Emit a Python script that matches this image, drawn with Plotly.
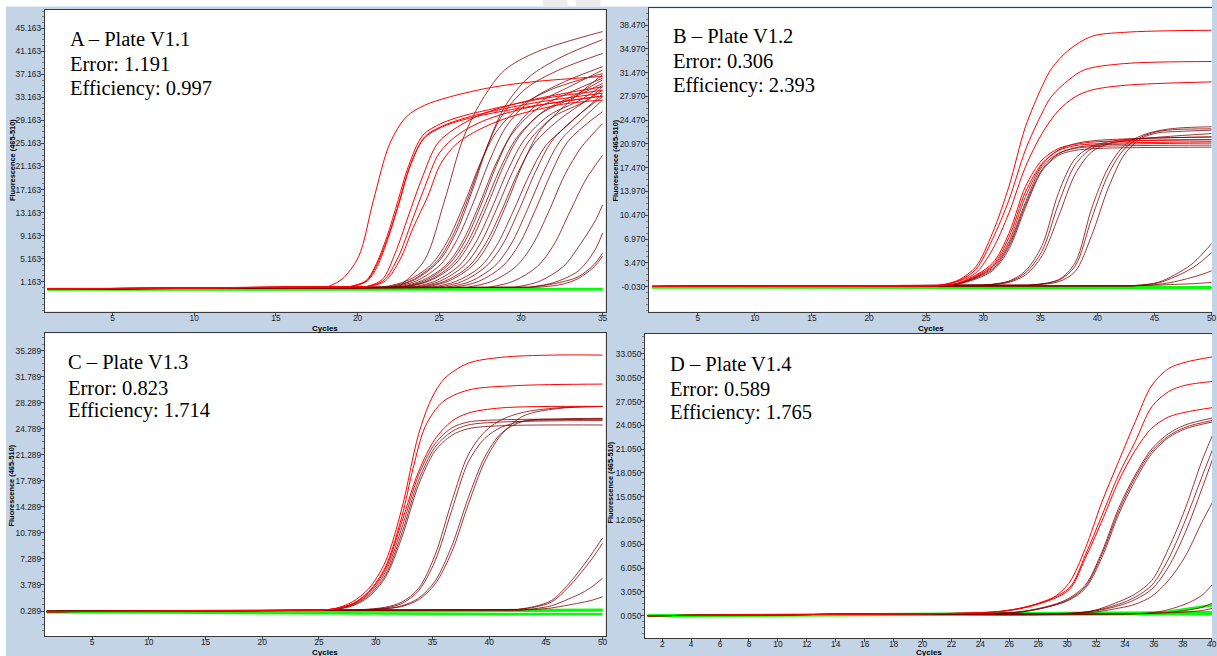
import plotly.graph_objects as go

# ---------------- data (knots) ----------------
# Panel A - Plate V1.1
A_red_x = [
    [1, 18.2, 19.05, 20.06, 20.97, 21.98, 22.99, 24.1, 25.7, 28.2, 30.8, 35],
    [1, 19.5, 20.5, 21.07, 21.8, 22.49, 23.1, 24.0, 25.1, 26.5, 28, 31, 35],
    [1, 19.6, 20.6, 21.2, 21.9, 22.6, 23.2, 24.1, 25.2, 26.6, 28, 31, 35],
    [1, 19.55, 20.55, 21.1, 21.85, 22.55, 23.15, 24.05, 25.15, 26.5, 28, 31, 35],
    [1, 20.5, 21.5, 22.3, 23.1, 23.9, 24.9, 26.1, 27.75, 30.6, 35],
    [1, 20.6, 21.6, 22.5, 23.3, 24.1, 25.0, 26.2, 27.8, 30.6, 35],
    [1, 20.7, 21.7, 22.6, 23.4, 24.3, 25.1, 26.1, 27.75, 29.6, 32.6, 35],
]
A_red_y = [
    [-0.1, 0.3, 1.6, 5.5, 15.3, 25.2, 29.8, 31.8, 33.3, 34.9, 35.9, 36.8],
    [-0.1, 0.3, 1.3, 3.8, 9.0, 15.4, 21.1, 26.6, 28.6, 30.0, 31.0, 32.8, 34.4],
    [-0.1, 0.3, 1.3, 3.8, 9.0, 15.4, 21.1, 26.3, 28.2, 29.6, 30.6, 32.3, 33.9],
    [-0.1, 0.3, 1.3, 3.7, 8.8, 15.0, 20.8, 26.0, 28.0, 29.3, 30.3, 31.8, 33.4],
    [-0.1, 0.3, 1.5, 6.1, 12.5, 18.8, 25.2, 28.0, 30.4, 32.7, 35.0],
    [-0.1, 0.3, 1.4, 5.5, 11.5, 17.5, 23.5, 26.8, 29.2, 31.5, 33.4],
    [-0.1, 0.3, 1.3, 5.0, 10.5, 16.0, 21.7, 25.2, 28.0, 30.0, 32.0, 32.7],
]
A_dark_x = [
    [1, 22.5, 24.1, 25.3, 26.5, 27.75, 29, 31, 35],
    [1, 22, 23.5, 25, 26, 27, 28, 29, 30.5, 32.5, 35],
    [1, 21.8, 23.3, 24.8, 25.8, 26.8, 27.8, 28.8, 30.3, 32.3, 35],
    [1, 21.5, 23, 24.5, 25.5, 26.5, 27.5, 28.5, 30, 32, 35],
    [1, 22.1, 23.6, 25.1, 26.1, 27.1, 28.1, 29.1, 30.6, 32.6, 35],
    [1, 22.4, 23.9, 25.4, 26.4, 27.4, 28.4, 29.4, 30.9, 32.9, 35],
    [1, 22.6, 24.1, 25.6, 26.6, 27.6, 28.6, 29.6, 31.1, 33.1, 35],
    [1, 22.7, 24.2, 25.7, 26.7, 27.7, 28.7, 29.7, 31.2, 33.2, 35],
    [1, 22.9, 24.4, 25.9, 26.9, 27.9, 28.9, 29.9, 31.4, 33.4, 35],
    [1, 23.2, 24.7, 26.2, 27.2, 28.2, 29.2, 30.2, 31.7, 33.7, 35],
    [1, 23.5, 25, 26.5, 27.5, 28.5, 29.5, 30.5, 32, 34, 35],
    [1, 23.8, 25.3, 26.8, 27.8, 28.8, 29.8, 30.8, 32.3, 35],
    [1, 24.1, 25.6, 27.1, 28.1, 29.1, 30.1, 31.1, 32.6, 35],
    [1, 24.5, 26, 27.5, 28.5, 29.5, 30.5, 31.5, 33, 35],
    [1, 24.9, 26.4, 27.9, 28.9, 29.9, 30.9, 31.9, 33.4, 35],
    [1, 25.4, 26.9, 28.4, 29.4, 30.4, 31.4, 32.4, 33.9, 35],
    [1, 25.9, 27.4, 28.9, 29.9, 30.9, 31.9, 32.9, 35],
    [1, 26.7, 28.2, 29.7, 30.7, 31.7, 32.7, 33.7, 35],
    [1, 28, 29.5, 31, 32, 33, 34, 35],
    [1, 29.6, 31.1, 32.6, 33.6, 34.6, 35],
    [1, 30.5, 32, 33.5, 34.5, 35],
    [1, 30.5, 32, 33.5, 34.5, 35],
    [1, 31, 32.5, 33.5, 34.5, 35],
]
A_dark_y = [
    [-0.1, 0.2, 4.9, 15.0, 26.3, 33.3, 37.9, 41.1, 44.6],
    [-0.1, 0.2, 1.5, 4.8, 9.5, 16.8, 25.1, 31.5, 36.7, 40.2, 43.2],
    [-0.1, 0.2, 1.4, 4.5, 9.0, 15.9, 23.7, 29.8, 34.7, 37.9, 40.8],
    [-0.1, 0.2, 1.3, 4.1, 8.2, 14.5, 21.6, 27.2, 31.7, 34.7, 37.3],
    [-0.1, 0.2, 1.3, 4.2, 8.5, 15.0, 22.3, 28.1, 32.7, 35.8, 38.5],
    [-0.1, 0.2, 1.3, 4.0, 8.0, 14.2, 21.2, 26.6, 31.0, 33.9, 36.5],
    [-0.1, 0.2, 1.3, 4.2, 8.3, 14.8, 22.0, 27.7, 32.2, 35.2, 37.9],
    [-0.1, 0.2, 1.2, 3.9, 7.8, 13.9, 20.6, 26.0, 30.3, 33.1, 35.6],
    [-0.1, 0.2, 1.3, 4.0, 8.0, 14.1, 21.0, 26.4, 30.8, 33.7, 36.2],
    [-0.1, 0.2, 1.2, 3.9, 7.8, 13.8, 20.5, 25.8, 30.0, 32.8, 35.3],
    [-0.1, 0.2, 1.2, 3.9, 7.7, 13.7, 20.3, 25.6, 29.8, 32.6, 35.0],
    [-0.1, 0.2, 1.2, 3.8, 7.6, 13.4, 20.0, 25.1, 29.2, 34.4],
    [-0.1, 0.2, 1.3, 4.1, 8.2, 14.5, 21.5, 27.1, 31.5, 37.1],
    [-0.1, 0.2, 1.2, 3.7, 7.4, 13.2, 19.6, 24.7, 28.7, 33.8],
    [-0.1, 0.2, 1.2, 3.9, 7.7, 13.7, 20.3, 25.6, 29.8, 33.3],
    [-0.1, 0.2, 1.2, 3.9, 7.7, 13.7, 20.3, 25.6, 29.8, 32.7],
    [-0.1, 0.2, 1.2, 3.9, 7.7, 13.7, 20.3, 25.6, 30.7],
    [-0.1, 0.2, 1.2, 3.8, 7.5, 13.3, 19.8, 24.5, 28.6],
    [-0.1, 0.2, 1.2, 3.8, 7.5, 13.3, 19.0, 23.1],
    [-0.1, 0.2, 1.2, 3.8, 7.5, 12.0, 14.5],
    [-0.1, 0.2, 1.0, 3.0, 6.5, 9.6],
    [-0.1, 0.2, 0.8, 2.0, 4.2, 6.1],
    [-0.1, 0.2, 0.7, 1.7, 3.8, 5.6],
]
A_green_x = [[1, 35], [1, 35]]
A_green_y = [[-0.1, -0.1], [-0.2, -0.15]]

# Panel B - Plate V1.2
B_red_x = [
    [1, 25, 26.45, 27.9, 29.35, 30.8, 32.25, 33.7, 35.15, 36.0, 37.5, 39.5, 42.4, 50],
    [1, 26, 27.9, 29.35, 30.8, 32.25, 33.7, 35.15, 36.0, 37.5, 38.9, 42.4, 50],
    [1, 26, 27.9, 29.35, 30.8, 32.25, 33.7, 35.15, 36.6, 38.05, 39.5, 42.4, 50],
    [1, 26, 28, 30.8, 32.25, 33.7, 35.15, 36.6, 38, 40, 50],
    [1, 26, 28, 30.8, 32.25, 33.7, 35.15, 36.6, 38, 40, 50],
]
B_red_y = [
    [0, 0.1, 0.25, 1.0, 2.9, 7.8, 14.7, 23.5, 29.4, 32.1, 34.8, 36.8, 37.4, 37.7],
    [0, 0.1, 0.9, 2.5, 6.9, 12.7, 20.1, 25.5, 28.0, 30.4, 31.9, 32.8, 33.1],
    [0, 0.1, 0.8, 2.0, 5.4, 10.8, 17.6, 22.5, 25.9, 27.9, 28.9, 29.6, 30.1],
    [0, 0.1, 0.6, 3.4, 7.8, 14.7, 18.6, 20.3, 20.9, 21.3, 21.6],
    [0, 0.1, 0.6, 3.1, 7.2, 13.9, 18.1, 20.0, 20.7, 21.0, 21.3],
]
B_dark_x = [
    [1, 26, 28, 30.8, 32.25, 33.7, 35.15, 36.6, 38, 40, 50],
    [1, 26, 28, 30.8, 32.25, 33.7, 35.15, 36.6, 38, 40, 50],
    [1, 26, 28, 30.8, 32.25, 33.7, 35.15, 36.6, 38, 40, 50],
    [1, 26, 28, 30.8, 32.25, 33.7, 35.15, 36.6, 38, 40, 50],
    [1, 30, 32.25, 33.7, 35.15, 36.6, 38.05, 39.5, 41, 43, 50],
    [1, 30, 32.25, 33.7, 35.15, 36.6, 38.05, 39.5, 41, 43, 50],
    [1, 30, 32.25, 33.7, 35.15, 36.6, 38.05, 39.5, 41, 43, 50],
    [1, 34, 36.6, 38.05, 39.5, 40.96, 42.4, 43.86, 45.3, 47, 50],
    [1, 34, 36.6, 38.05, 39.5, 40.96, 42.4, 43.86, 45.3, 47, 50],
    [1, 34, 36.6, 38.05, 39.5, 40.96, 42.4, 43.86, 45.3, 47, 50],
    [1, 43, 45.3, 46.76, 48.2, 49.2, 50],
    [1, 43, 45.3, 46.76, 48.2, 49.2, 50],
    [1, 43, 45.3, 46.76, 48.2, 49.2, 50],
    [1, 43, 45.3, 46.76, 48.2, 49.2, 50],
]
B_dark_y = [
    [0, 0.1, 0.5, 2.9, 6.6, 13.2, 17.9, 20.1, 21.0, 21.5, 22.0],
    [0, 0.1, 0.5, 2.7, 6.2, 12.4, 17.6, 19.6, 20.3, 20.6, 20.8],
    [0, 0.1, 0.5, 2.5, 5.9, 12.0, 17.2, 19.5, 20.4, 20.8, 21.1],
    [0, 0.1, 0.4, 2.3, 5.5, 11.6, 17.0, 19.3, 20.0, 20.3, 20.5],
    [0, 0.2, 0.8, 2.3, 6.0, 13.8, 18.8, 20.6, 21.3, 21.7, 22.0],
    [0, 0.2, 0.7, 2.0, 5.2, 12.2, 17.9, 20.3, 21.1, 21.4, 21.6],
    [0, 0.2, 0.6, 1.7, 4.5, 10.3, 16.5, 19.8, 21.0, 21.6, 22.5],
    [0, 0.2, 1.0, 3.5, 11.5, 17.5, 20.8, 22.2, 22.9, 23.3, 23.5],
    [0, 0.2, 0.9, 3.0, 10.0, 16.5, 20.3, 22.0, 22.8, 23.1, 23.2],
    [0, 0.2, 0.7, 2.2, 7.5, 14.5, 19.5, 21.8, 22.6, 22.8, 23.0],
    [0, 0.1, 0.6, 1.7, 3.2, 4.8, 6.3],
    [0, 0.1, 0.5, 1.4, 2.6, 3.8, 5.0],
    [0, 0.1, 0.3, 0.7, 1.3, 1.8, 2.3],
    [0, 0.1, 0.2, 0.3, 0.4, 0.5, 0.6],
]
B_green_x = [[1, 50], [1, 50]]
B_green_y = [[0.0, -0.1], [-0.15, -0.2]]

# Panel C - Plate V1.3
C_red_x = [
    [1, 25, 26.46, 27.92, 29.39, 30.85, 32.31, 33.77, 34.94, 36.1, 38.16, 41.08, 45.47, 50],
    [1, 25, 26.5, 28, 29.39, 30.85, 32.31, 33.3, 34.4, 35.9, 38.16, 42.5, 50],
    [1, 25, 26.5, 28, 29.39, 30.85, 32.31, 33.77, 35.23, 36.7, 38.16, 41.08, 50],
]
C_red_y = [
    [0.2, 0.4, 0.65, 1.5, 3.3, 6.9, 14.1, 24.0, 28.9, 31.6, 33.6, 34.4, 34.7, 34.7],
    [0.2, 0.4, 0.6, 1.3, 2.9, 6.2, 13.0, 19.5, 25.2, 28.4, 30.0, 30.6, 30.8],
    [0.2, 0.4, 0.6, 1.3, 2.8, 5.9, 12.3, 19.0, 23.4, 25.8, 26.9, 27.6, 27.8],
]
C_dark_x = [
    [1, 25, 26.5, 28, 29.39, 30.85, 32.31, 33.77, 35.23, 36.7, 38.16, 41.08, 50],
    [1, 25, 26.5, 28, 29.39, 30.85, 32.31, 33.77, 35.23, 36.7, 38.16, 41.08, 50],
    [1, 25, 26.5, 28, 29.39, 30.85, 32.31, 33.77, 35.23, 36.7, 38.16, 41.08, 50],
    [1, 28, 30.85, 32.31, 33.77, 35.23, 36.7, 38.16, 39.62, 41.08, 43, 46, 50],
    [1, 28, 30.85, 32.31, 33.77, 35.23, 36.7, 38.16, 39.62, 41.08, 43, 46, 50],
    [1, 28, 30.85, 32.31, 33.77, 35.23, 36.7, 38.16, 39.62, 41.08, 43, 46, 50],
    [1, 28, 30.85, 32.31, 33.77, 35.23, 36.7, 38.16, 39.62, 41.08, 43, 46, 50],
    [1, 42.5, 44, 45.5, 47, 48.4, 49.2, 50],
    [1, 42.5, 44, 45.5, 47, 48.4, 49.2, 50],
    [1, 42.5, 44, 45.5, 47, 48.4, 49.2, 50],
    [1, 42.5, 44, 45.5, 47, 48.4, 49.2, 50],
]
C_dark_y = [
    [0.2, 0.4, 0.6, 1.2, 2.6, 5.5, 11.5, 18.5, 22.8, 24.9, 25.7, 26.0, 26.1],
    [0.2, 0.4, 0.55, 1.1, 2.4, 5.1, 10.8, 17.8, 22.3, 24.4, 25.3, 25.7, 25.9],
    [0.2, 0.4, 0.5, 1.0, 2.2, 4.8, 10.2, 17.2, 21.8, 23.9, 24.8, 25.2, 25.3],
    [0.2, 0.4, 0.8, 1.5, 3.3, 7.8, 15.0, 21.3, 24.4, 26.0, 27.0, 27.6, 27.8],
    [0.2, 0.4, 0.7, 1.3, 3.0, 7.0, 13.8, 20.3, 23.5, 25.0, 25.8, 26.0, 26.1],
    [0.2, 0.4, 0.6, 1.0, 2.0, 4.3, 9.0, 15.5, 21.0, 24.2, 25.8, 26.1, 26.2],
    [0.2, 0.4, 0.6, 0.9, 1.8, 3.9, 8.2, 14.6, 20.4, 24.0, 26.5, 27.5, 27.8],
    [0.3, 0.5, 0.9, 1.7, 3.9, 6.6, 8.3, 10.1],
    [0.3, 0.5, 0.8, 1.5, 3.5, 6.0, 7.6, 9.4],
    [0.3, 0.4, 0.6, 1.0, 1.9, 2.9, 3.7, 4.7],
    [0.3, 0.4, 0.5, 0.7, 1.1, 1.5, 1.8, 2.2],
]
C_green_x = [[1, 50], [1, 50], [1, 50]]
C_green_y = [[0.15, 0.45], [0.15, 0.35], [0.15, -0.15]]

# Panel D - Plate V1.4
D_red_x = [
    [1, 20, 25.52, 27.82, 28.97, 30.12, 31.26, 32.41, 33.56, 34.71, 35.86, 37.01, 38.16, 40.1],
    [1, 20, 25.5, 27.82, 30.12, 31.26, 32.41, 33.56, 34.71, 35.86, 37.01, 38.16, 40.1],
    [1, 20, 25.5, 27.82, 30.12, 31.26, 32.41, 33.56, 34.71, 35.86, 37.01, 38.16, 40.1],
]
D_red_y = [
    [0.05, 0.3, 0.64, 1.48, 2.24, 4.13, 8.54, 14.4, 19.5, 24.5, 29.1, 31.2, 32.0, 32.7],
    [0.05, 0.3, 0.6, 1.5, 3.5, 7.7, 12.7, 17.8, 22.0, 26.4, 28.3, 29.1, 29.6],
    [0.05, 0.3, 0.6, 1.4, 3.3, 7.3, 12.0, 17.0, 20.9, 23.7, 25.1, 25.7, 26.3],
]
D_dark_x = [
    [1, 20, 26.67, 28.97, 30.12, 31.26, 32.41, 33.56, 34.71, 35.86, 37.01, 38.16, 40.1],
    [1, 20, 26.67, 28.97, 30.12, 31.26, 32.41, 33.56, 34.71, 35.86, 37.01, 38.16, 40.1],
    [1, 20, 26.67, 28.97, 30.12, 31.26, 32.41, 33.56, 34.71, 35.86, 37.01, 38.16, 40.1],
    [1, 20, 31.26, 33.56, 34.71, 35.86, 37.01, 38.16, 39.31, 40.1],
    [1, 20, 31.26, 33.56, 34.71, 35.86, 37.01, 38.16, 39.31, 40.1],
    [1, 20, 31.26, 33.56, 34.71, 35.86, 37.01, 38.16, 39.31, 40.1],
    [1, 20, 31.26, 33.56, 34.71, 35.86, 37.01, 38.16, 39.31, 40.1],
    [1, 20, 34.7, 36.5, 38.16, 39.31, 40.1],
    [1, 20, 34.7, 36.5, 38.16, 39.31, 40.1],
    [1, 20, 34.7, 36.5, 38.16, 39.31, 40.1],
]
D_dark_y = [
    [0.05, 0.3, 0.55, 1.4, 2.24, 3.9, 8.1, 13.6, 17.8, 21.1, 23.0, 24.1, 25.0],
    [0.05, 0.3, 0.5, 1.3, 2.1, 3.7, 7.8, 13.2, 17.5, 20.8, 22.7, 23.8, 24.7],
    [0.05, 0.3, 0.5, 1.3, 2.0, 3.5, 7.4, 12.8, 17.1, 20.5, 22.5, 23.6, 24.5],
    [0.05, 0.3, 0.5, 1.8, 2.8, 4.5, 8.5, 13.5, 19.5, 23.0],
    [0.05, 0.3, 0.5, 1.5, 2.4, 3.9, 7.2, 12.0, 17.5, 21.2],
    [0.05, 0.3, 0.5, 1.3, 2.1, 3.4, 6.2, 10.5, 16.0, 20.0],
    [0.05, 0.3, 0.4, 1.0, 1.5, 2.5, 4.5, 7.5, 11.8, 14.5],
    [0.05, 0.3, 0.3, 0.6, 1.5, 2.6, 4.1],
    [0.05, 0.3, 0.3, 0.4, 0.7, 1.1, 1.7],
    [0.05, 0.3, 0.3, 0.4, 0.5, 0.7, 1.0],
]
D_green_x = [[1, 40.1], [1, 40.1], [1, 36, 40.1]]
D_green_y = [[0.05, 0.3], [0.05, 0.5], [0.05, 0.3, 1.4]]

# axis tick labels
A_yticks = ["1.163", "5.163", "9.163", "13.163", "17.163", "21.163", "25.163",
            "29.163", "33.163", "37.163", "41.163", "45.163"]
B_yticks = ["-0.030", "3.470", "6.970", "10.470", "13.970", "17.470", "20.970",
            "24.470", "27.970", "31.470", "34.970", "38.470"]
C_yticks = ["0.289", "3.789", "7.289", "10.789", "14.289", "17.789", "21.289",
            "24.789", "28.289", "31.789", "35.289"]
D_yticks = ["0.050", "3.050", "6.050", "9.050", "12.050", "15.050", "18.050",
            "21.050", "24.050", "27.050", "30.050", "33.050"]
A_xticks = [5, 10, 15, 20, 25, 30, 35]
B_xticks = [5, 10, 15, 20, 25, 30, 35, 40, 45, 50]
C_xticks = [5, 10, 15, 20, 25, 30, 35, 40, 45, 50]
D_xticks = [2, 4, 6, 8, 10, 12, 14, 16, 18, 20, 22, 24, 26, 28, 30, 32, 34, 36, 38, 40]

panel_titles = [
    ["A – Plate V1.1", "Error: 1.191", "Efficiency: 0.997"],
    ["B – Plate V1.2", "Error: 0.306", "Efficiency: 2.393"],
    ["C – Plate V1.3", "Error: 0.823", "Efficiency: 1.714"],
    ["D – Plate V1.4", "Error: 0.589", "Efficiency: 1.765"],
]

# ---------------- figure ----------------
W, H = 1217, 656
BG = "#c3d4e6"
RED = "#ff0000"
DARK = "rgba(128,0,0,0.78)"
GREEN = "#00ff00"

fig = go.Figure()


def px_x(p):
    return p / W


def px_y(p):
    return 1 - p / H


panels = [
    dict(xa="x", ya="y", xd=(45, 608), yd=(9.5, 311.5), xr=[0.85, 35.18], yr=[-4.01, 48.43],
         ytl=A_yticks, ystep=4.0, xt=A_xticks, rb=True,
         red=(A_red_x, A_red_y), dark=(A_dark_x, A_dark_y), green=(A_green_x, A_green_y)),
    dict(xa="x2", ya="y2", xd=(651.7, 1217), yd=(8.3, 311.7), xr=[0.73, 50.04], yr=[-3.71, 40.93],
         ytl=B_yticks, ystep=3.5, xt=B_xticks, rb=False,
         red=(B_red_x, B_red_y), dark=(B_dark_x, B_dark_y), green=(B_green_x, B_green_y)),
    dict(xa="x3", ya="y3", xd=(45, 608), yd=(333.3, 636), xr=[0.83, 50.26], yr=[-3.07, 37.63],
         ytl=C_yticks, ystep=3.5, xt=C_xticks, rb=True,
         red=(C_red_x, C_red_y), dark=(C_dark_x, C_dark_y), green=(C_green_x, C_green_y)),
    dict(xa="x4", ya="y4", xd=(647.7, 1217), yd=(334, 638.3), xr=[0.81, 40.02], yr=[-2.80, 35.57],
         ytl=D_yticks, ystep=3.0, xt=D_xticks, rb=False,
         red=(D_red_x, D_red_y), dark=(D_dark_x, D_dark_y), green=(D_green_x, D_green_y)),
]

tickfont = dict(family="Liberation Sans, Arial, sans-serif", size=8.4, color="#222")


def add_curve(cx, cy, col, w, xa, ya):
    # flat baseline part drawn straight, the amplification part smoothed
    fig.add_trace(go.Scatter(
        x=cx[:2], y=cy[:2], mode="lines", xaxis=xa, yaxis=ya,
        line=dict(color=col, width=w), hoverinfo="skip", showlegend=False))
    if len(cx) > 2:
        fig.add_trace(go.Scatter(
            x=cx[1:], y=cy[1:], mode="lines", xaxis=xa, yaxis=ya,
            line=dict(color=col, width=w, shape="spline", smoothing=0.9),
            hoverinfo="skip", showlegend=False))


for i, p in enumerate(panels):
    for (xs, ys), col, w in [(p["green"], GREEN, 2.5), (p["dark"], DARK, 1.0), (p["red"], RED, 1.0)]:
        for cx, cy in zip(xs, ys):
            add_curve(cx, cy, col, w, p["xa"], p["ya"])
    suffix = "" if i == 0 else str(i + 1)
    yvals = [float(t) for t in p["ytl"]]
    fig.layout["xaxis" + suffix] = dict(
        domain=[px_x(p["xd"][0]), min(1.0, px_x(p["xd"][1]))],
        range=p["xr"], anchor=p["ya"], showgrid=False, zeroline=False,
        showline=True, linecolor="#3a3a3a", linewidth=1, mirror=True,
        ticks="outside", ticklen=3, tickcolor="#444", tickvals=p["xt"],
        ticktext=[str(v) for v in p["xt"]], tickfont=tickfont, ticklabelstandoff=-5,
        ticklabeloverflow="allow")
    fig.layout["yaxis" + suffix] = dict(
        domain=[px_y(p["yd"][1]), px_y(p["yd"][0])],
        range=p["yr"], anchor=p["xa"], showgrid=False, zeroline=False,
        showline=True, linecolor="#3a3a3a", linewidth=1, mirror=p["rb"],
        ticks="outside", ticklen=3, tickcolor="#444", tickvals=yvals,
        ticktext=p["ytl"], tickfont=tickfont, ticklabelstandoff=-2,
        minor=dict(ticks="outside", ticklen=2, tickcolor="#777",
                   tickmode="linear", tick0=yvals[0], dtick=p["ystep"] / 4))

annotations = []
text_pos = [(68, [46, 70.5, 94.5]), (674, [42.5, 67.5, 92]),
            (66.3, [368.5, 394, 417]), (670.7, [370, 395, 419])]
for (tx, bases), lines in zip(text_pos, panel_titles):
    for b, t in zip(bases, lines):
        annotations.append(dict(
            x=px_x(tx), y=px_y(b - 6.5), xref="paper", yref="paper",
            xanchor="left", yanchor="middle", showarrow=False, text=t,
            font=dict(family="Liberation Serif, Times New Roman, serif", size=20.5, color="#000")))

for (cx, cy) in [(12, 160), (618, 160), (11.5, 485), (613, 482)]:
    annotations.append(dict(
        x=px_x(cx), y=px_y(cy), xref="paper", yref="paper", xanchor="center", yanchor="middle",
        showarrow=False, text="<b>Fluorescence (465-510)</b>", textangle=-90,
        font=dict(family="Liberation Sans, Arial, sans-serif", size=7.4, color="#000")))
for (cx, cy) in [(326, 328), (935, 328), (326, 652.5), (933, 652.5)]:
    annotations.append(dict(
        x=px_x(cx), y=px_y(cy), xref="paper", yref="paper", xanchor="center", yanchor="middle",
        showarrow=False, text="<b>Cycles</b>",
        font=dict(family="Liberation Sans, Arial, sans-serif", size=8, color="#000")))

shapes = [
    dict(type="rect", xref="paper", yref="paper", x0=0, x1=1, y0=px_y(6.5), y1=1,
         fillcolor="#ffffff", line=dict(width=0), layer="below"),
    dict(type="rect", xref="paper", yref="paper", x0=0, x1=px_x(6), y0=0, y1=1,
         fillcolor="#ffffff", line=dict(width=0), layer="below"),
    dict(type="rect", xref="paper", yref="paper", x0=px_x(545), x1=px_x(570), y0=px_y(6.5), y1=1,
         fillcolor="#ececec", line=dict(width=0), layer="below"),
    dict(type="rect", xref="paper", yref="paper", x0=px_x(578), x1=px_x(603), y0=px_y(6.5), y1=1,
         fillcolor="#ececec", line=dict(width=0), layer="below"),
]

fig.update_layout(
    width=W, height=H, margin=dict(l=0, r=0, t=0, b=0),
    paper_bgcolor=BG, plot_bgcolor="#ffffff", showlegend=False,
    annotations=annotations, shapes=shapes,
)

fig.write_html("out.html", config={"displayModeBar": False},
               post_script="document.body.style.margin='0px';document.body.style.overflow='hidden';")
